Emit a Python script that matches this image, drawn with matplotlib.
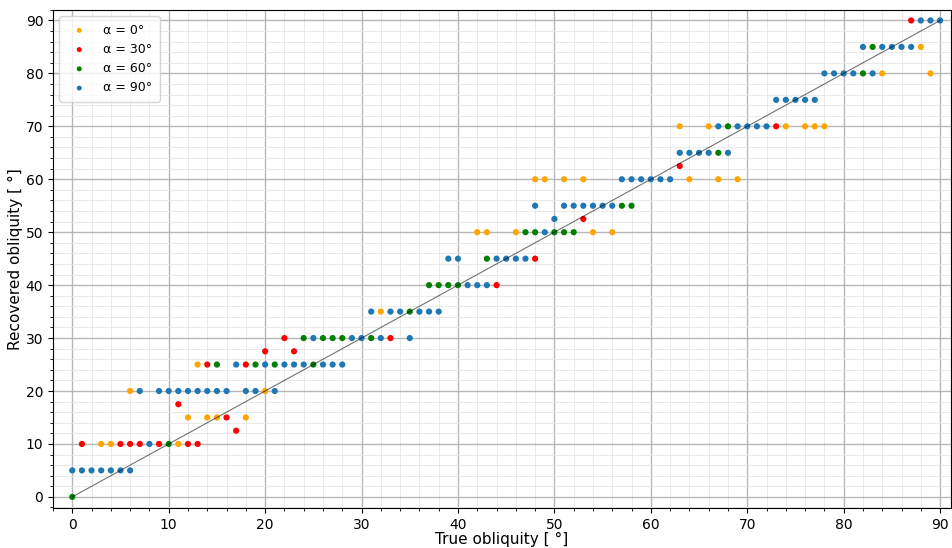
import matplotlib
matplotlib.use("Agg")
import matplotlib.pyplot as plt
from matplotlib.ticker import MultipleLocator

# Recovered obliquity per true obliquity, one set per spin-axis azimuth alpha
x_a0 = [3, 4, 6, 11, 12, 13, 14, 15, 18, 20, 32, 42, 43, 46, 48, 49, 51, 53, 54, 56,
        63, 64, 66, 67, 69, 74, 76, 77, 78, 84, 88, 89]
y_a0 = [10, 10, 20, 10, 15, 25, 15, 15, 15, 20, 35, 50, 50, 50, 60, 60, 60, 60, 50, 50,
        70, 60, 70, 60, 60, 70, 70, 70, 70, 80, 85, 80]

x_a30 = [1, 5, 6, 7, 9, 11, 12, 13, 14, 16, 17, 18, 20, 22, 23, 33, 44, 48, 53, 63, 73, 87]
y_a30 = [10, 10, 10, 10, 10, 17.5, 10, 10, 25, 15, 12.5, 25, 27.5, 30, 27.5, 30, 40, 45,
         52.5, 62.5, 70, 90]

x_a60 = [0, 10, 15, 19, 21, 24, 25, 26, 27, 28, 31, 35, 37, 38, 39, 40, 43, 47, 48, 50,
         51, 52, 57, 58, 67, 68, 82, 83]
y_a60 = [0, 10, 25, 25, 25, 30, 25, 30, 30, 30, 30, 35, 40, 40, 40, 40, 45, 50, 50, 50,
         50, 50, 55, 55, 65, 70, 80, 85]

x_a90 = list(range(0, 91))
y_a90 = [5, 5, 5, 5, 5, 5, 5, 20, 10, 20,
         20, 20, 20, 20, 20, 20, 20, 25, 20, 20,
         25, 20, 25, 25, 25, 30, 25, 25, 25, 30,
         30, 35, 30, 35, 35, 30, 35, 35, 35, 45,
         45, 40, 40, 40, 45, 45, 45, 45, 55, 50,
         52.5, 55, 55, 55, 55, 55, 55, 60, 60, 60,
         60, 60, 60, 65, 65, 65, 65, 70, 65, 70,
         70, 70, 70, 75, 75, 75, 75, 75, 80, 80,
         80, 80, 85, 80, 85, 85, 85, 85, 90, 90,
         90]

labels = ["α = 0°", "α = 30°", "α = 60°", "α = 90°"]
colors = ["orange", "red", "green", "tab:blue"]
series = [(x_a0, y_a0), (x_a30, y_a30), (x_a60, y_a60), (x_a90, y_a90)]

fig = plt.figure(figsize=(9.53, 5.48), dpi=100)
ax = fig.add_axes([0.0556, 0.073, 0.942, 0.909])

for (xs, ys), c, lab in zip(series, colors, labels):
    ax.scatter(xs, ys, s=20, color=c, edgecolors="none", label=lab, zorder=3)

ax.plot([0, 90], [0, 90], color="black", lw=0.8, alpha=0.55, zorder=4)

ax.set_xlim(-2, 91.1)
ax.set_ylim(-2.1, 92)
ax.xaxis.set_major_locator(MultipleLocator(10))
ax.yaxis.set_major_locator(MultipleLocator(10))
ax.xaxis.set_minor_locator(MultipleLocator(2))
ax.yaxis.set_minor_locator(MultipleLocator(2))
ax.grid(which="major", color="#b0b0b0", lw=1.0, alpha=0.9)
ax.grid(which="minor", color="#e6e6e6", lw=0.6)
ax.set_axisbelow(True)

ax.set_xlabel("True obliquity [ °]", fontsize=11, labelpad=0)
ax.set_ylabel("Recovered obliquity [ °]", fontsize=11, labelpad=2)
ax.tick_params(labelsize=10)

ax.legend(loc="upper left", fontsize=9, markerscale=0.8, handletextpad=0.9,
          borderpad=0.6, labelspacing=0.5)

fig.savefig("out.png", dpi=100)
